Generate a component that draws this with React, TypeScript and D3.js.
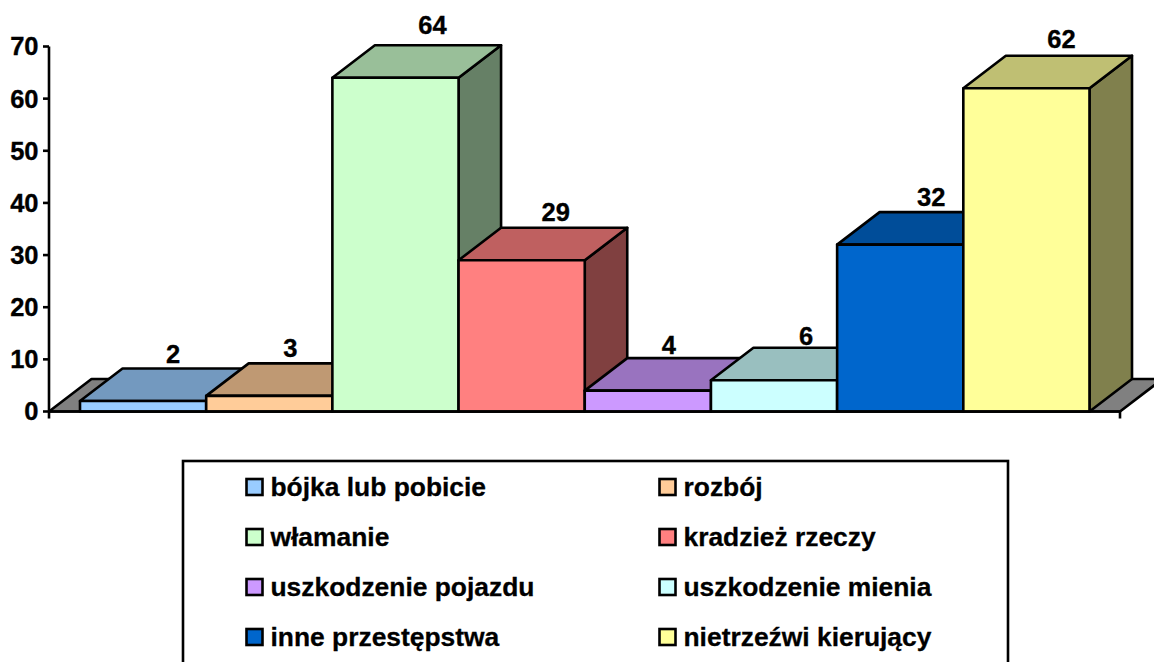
import React from "react";
import * as d3 from "d3";

const categories = ["bójka lub pobicie", "rozbój", "włamanie", "kradzież rzeczy", "uszkodzenie pojazdu", "uszkodzenie mienia", "inne przestępstwa", "nietrzeźwi kierujący"];
const values = [2, 3, 64, 29, 4, 6, 32, 62];
const colors = ["#99CCFF", "#FFCC99", "#CCFFCC", "#FF8080", "#CC99FF", "#CCFFFF", "#0066CC", "#FFFF99"];
const yTicks = [0, 10, 20, 30, 40, 50, 60, 70];
// label nudges relative to the bar's centre and its rear top edge (layout only)
const labelDx = [30, 21, 37, 34, 21, 32, 31, 35];
const labelDy = [14, 15, 20, 16, 13, 12, 15, 17];

const W = 1154, H = 662;
const DX = 42.5, DY = 32.5;
const FONT = "'Liberation Sans', Arial, sans-serif";
const x = d3.scaleBand<string>().domain(categories).range([80, 1089.5]);
const y = d3.scaleLinear().domain([0, 70]).range([411.5, 46.5]);
const shade = (c: string, k: number) => {
  const r = d3.rgb(c);
  return d3.rgb(r.r * k, r.g * k, r.b * k).formatHex();
};
const pts = (p: number[][]) => p.map((q) => q.join(",")).join(" ");
const SW = 2.6;

export default function App() {
  const x0 = 49, x1 = 1120, base = y(0);
  return (
    <svg width={W} height={H} viewBox={`0 0 ${W} ${H}`} style={{ position: "absolute", left: 0, top: 0, background: "#fff" }} fontFamily={FONT} fontWeight="bold" fill="#000">
      <polygon points={pts([[x0, base], [x0 + DX, base - DY], [x1 + DX, base - DY], [x1, base]])} fill="#808080" stroke="#000" strokeWidth={SW} strokeLinejoin="round" />
      {categories.map((c, i) => {
        const l = x(c)!, r = l + x.bandwidth(), t = y(values[i]);
        return (
          <g key={c} stroke="#000" strokeWidth={SW} strokeLinejoin="round">
            <polygon points={pts([[r, t], [r + DX, t - DY], [r + DX, base - DY], [r, base]])} fill={shade(colors[i], 0.5)} />
            <polygon points={pts([[l, t], [l + DX, t - DY], [r + DX, t - DY], [r, t]])} fill={shade(colors[i], 0.75)} />
            <rect x={l} y={t} width={r - l} height={base - t} fill={colors[i]} />
          </g>
        );
      })}
      <line x1={x0} x2={x0} y1={y(70)} y2={base + 7} stroke="#000" strokeWidth={SW} />
      <line x1={x0} x2={x1} y1={base} y2={base} stroke="#000" strokeWidth={SW} />
      <line x1={x1} x2={x1} y1={base} y2={base + 7} stroke="#000" strokeWidth={SW} />
      {yTicks.map((t) => (
        <g key={t}>
          <line x1={x0 - 6} x2={x0} y1={y(t)} y2={y(t)} stroke="#000" strokeWidth={SW} />
          <text x={38.5} y={y(t)} dy="0.35em" textAnchor="end" fontSize={25.5} stroke="#000" strokeWidth={0.35}>{t}</text>
        </g>
      ))}
      {categories.map((c, i) => (
        <text key={c} x={x(c)! + x.bandwidth() / 2 + labelDx[i]} y={y(values[i]) - DY - labelDy[i]} dy="0.35em" textAnchor="middle" fontSize={25.5} stroke="#000" strokeWidth={0.35}>{values[i]}</text>
      ))}
      <rect x={183} y={461} width={825} height={230} fill="#fff" stroke="#000" strokeWidth={SW} />
      {categories.map((c, i) => {
        const col = i % 2, row = Math.floor(i / 2);
        const sx = col === 0 ? 246.5 : 659.5, cy = 487 + row * 50;
        return (
          <g key={c}>
            <rect x={sx} y={cy - 8} width={16} height={16} fill={colors[i]} stroke="#000" strokeWidth={SW} />
            <text x={sx + 24} y={cy} dy="0.35em" fontSize={26.4} stroke="#000" strokeWidth={0.3}>{c}</text>
          </g>
        );
      })}
    </svg>
  );
}
